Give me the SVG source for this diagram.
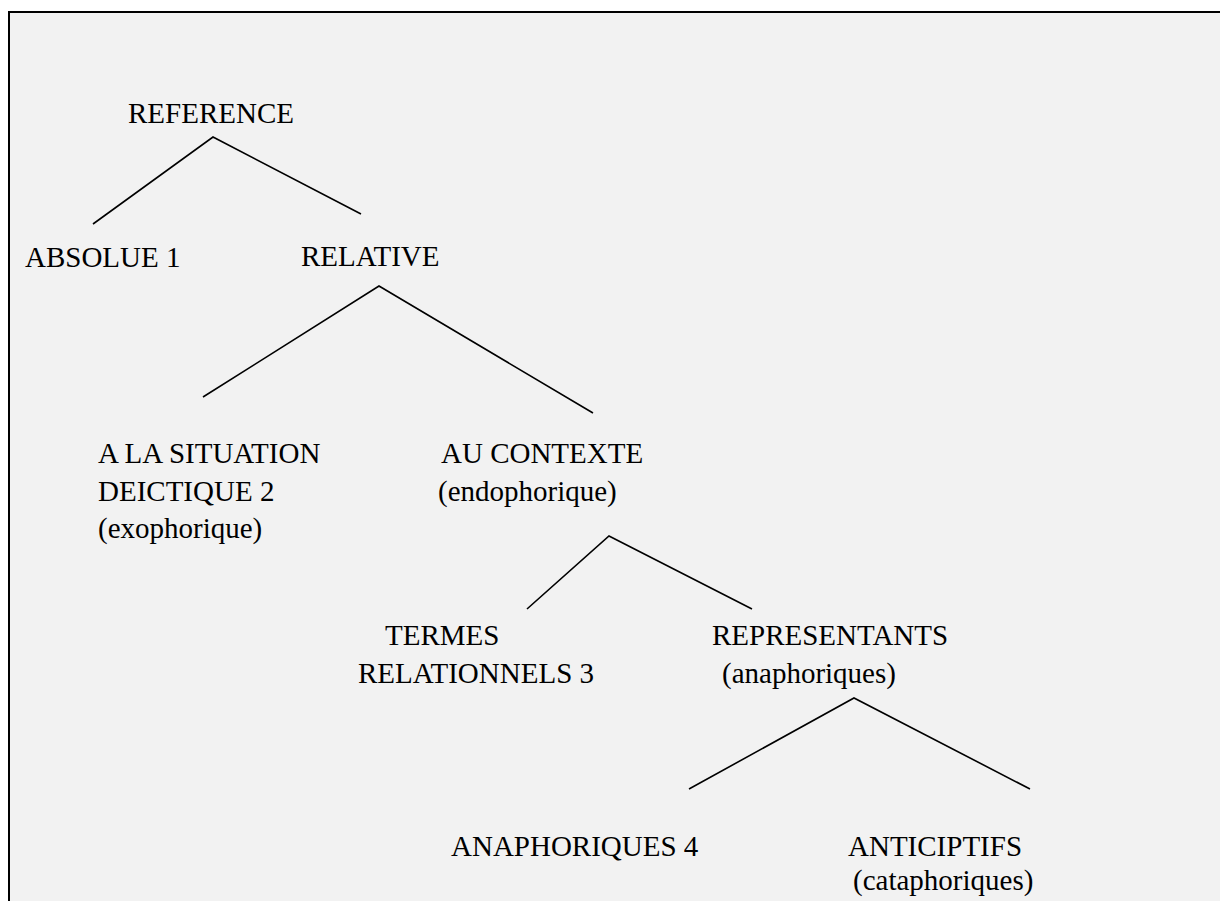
<svg xmlns="http://www.w3.org/2000/svg" width="1220" height="901" viewBox="0 0 1220 901">
<style>
text{font-family:"Liberation Serif","Times New Roman",serif;font-size:29px;fill:#000}
.c{stroke:#000;stroke-width:1.6;fill:none;stroke-linejoin:miter}
</style>
<rect x="0" y="0" width="1220" height="901" fill="#ffffff"/>
<rect x="9" y="12" width="1215" height="895" fill="#f2f2f2"/>
<path d="M9 901 V12 H1220" fill="none" stroke="#000" stroke-width="2"/>
<g id="connectors">
<polyline class="c" points="93,224 213,137 361,214"/>
<polyline class="c" points="203,397 379,286 593,413"/>
<polyline class="c" points="527,609 609,536 752,609"/>
<polyline class="c" points="689,789 854,698 1030,789"/>
</g>
<g id="reference"><text x="128" y="123">REFERENCE</text></g>
<g id="absolue"><text x="25" y="267">ABSOLUE 1</text></g>
<g id="relative"><text x="301" y="266">RELATIVE</text></g>
<g id="situation"><text x="98" y="463">A LA SITUATION</text><text x="98" y="501">DEICTIQUE 2</text><text x="98" y="538">(exophorique)</text></g>
<g id="contexte"><text x="441" y="463">AU CONTEXTE</text><text x="438" y="501">(endophorique)</text></g>
<g id="termes"><text x="385" y="645">TERMES</text><text x="358" y="683">RELATIONNELS 3</text></g>
<g id="representants"><text x="712" y="645">REPRESENTANTS</text><text x="722" y="683">(anaphoriques)</text></g>
<g id="anaphoriques"><text x="451" y="856">ANAPHORIQUES 4</text></g>
<g id="anticiptifs"><text x="848" y="856">ANTICIPTIFS</text><text x="853" y="890">(cataphoriques)</text></g>
</svg>
